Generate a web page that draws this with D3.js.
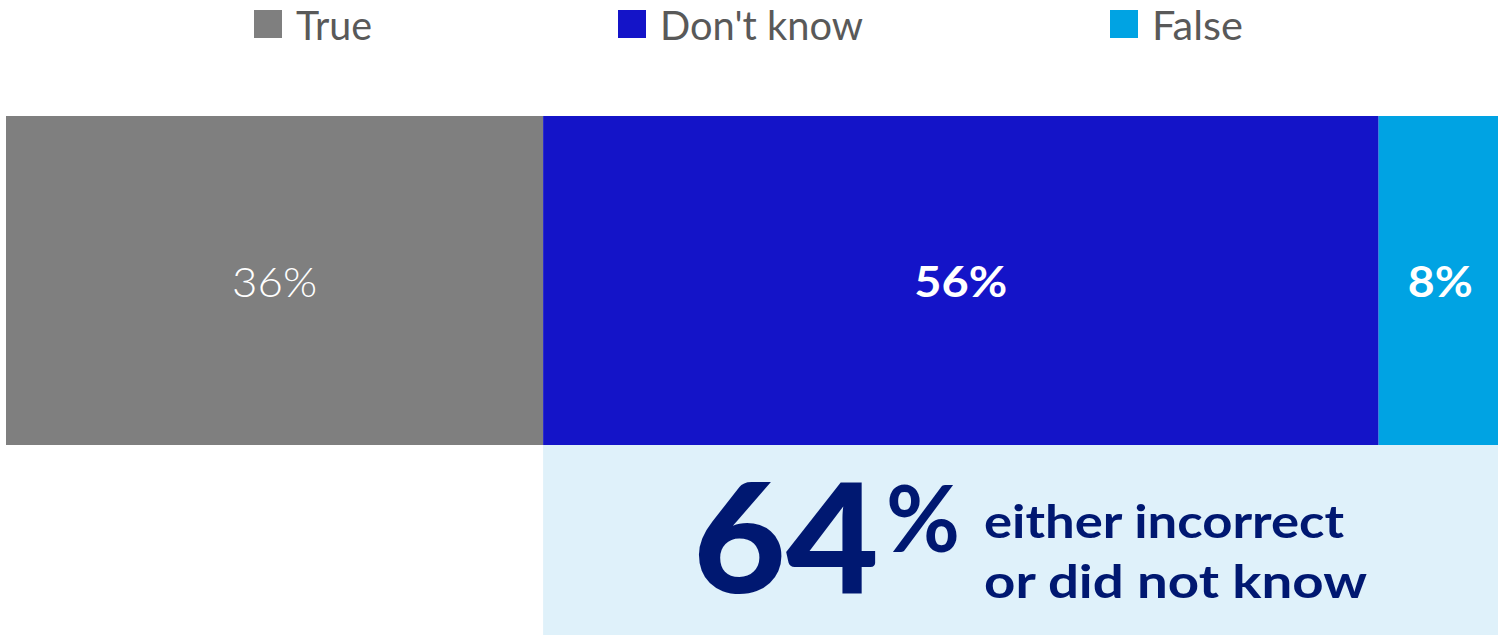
<!DOCTYPE html>
<html>
<head>
<meta charset="utf-8">
<script src="https://cdn.jsdelivr.net/npm/d3@7"></script>
<style>
  html, body { margin: 0; padding: 0; background: #fff; }
  svg { display: block; font-family: Lato, "Open Sans", sans-serif; }
</style>
</head>
<body>
<svg id="chart" width="1498" height="635"></svg>
<script>
// Survey answers, percent of respondents
const categories = ["True", "Don't know", "False"];
const values = [36, 56, 8];
const valueLabels = ["36%", "56%", "8%"];
const colors = ["#7f7f7f", "#1414c8", "#00a3e3"];
const labelWeights = [300, 700, 700];

// Callout: share that answered incorrectly or did not know
const calloutSeries = ["Don't know", "False"];
const calloutValue = 64;
const calloutLines = ["either incorrect", "or did not know"];

const W = 1498, H = 635;
const svg = d3.select("#chart");

const x = d3.scaleLinear().domain([0, 100]).range([6, 1498]);
const y = d3.scaleBand().domain(["all"]).range([116, 445]).padding(0);

// stacked offsets
let acc = 0;
const segs = categories.map((c, i) => {
  const s = { cat: c, v: values[i], x0: acc, x1: acc + values[i], label: valueLabels[i], color: colors[i], weight: labelWeights[i] };
  acc += values[i];
  return s;
});

// legend
const legendX = [254, 618, 1110];
const textW = [76, 203, 91];
const legend = svg.append("g");
categories.forEach((c, i) => {
  const g = legend.append("g").attr("transform", `translate(${legendX[i]},0)`);
  g.append("rect").attr("x", 0).attr("y", 10).attr("width", 28).attr("height", 28).attr("fill", colors[i]);
  g.append("text").attr("x", 42).attr("y", 40)
    .attr("font-size", 40).attr("font-weight", 400).attr("fill", "#595959")
    .attr("textLength", textW[i]).attr("lengthAdjust", "spacingAndGlyphs")
    .text(c);
});

// callout box under the incorrect / don't know segments
const cStart = d3.sum(values.slice(0, categories.indexOf(calloutSeries[0])));
svg.append("rect")
  .attr("x", x(cStart)).attr("y", y("all") + y.bandwidth())
  .attr("width", x(cStart + calloutValue) - x(cStart))
  .attr("height", H - (y("all") + y.bandwidth()))
  .attr("fill", "#dff1fa");

// bar segments
svg.append("g").selectAll("rect").data(segs).join("rect")
  .attr("x", d => x(d.x0)).attr("y", y("all"))
  .attr("width", d => x(d.x1) - x(d.x0)).attr("height", y.bandwidth())
  .attr("fill", d => d.color);

const segLabelW = [85, 93, 65];
svg.append("g").selectAll("text").data(segs).join("text")
  .attr("x", d => (x(d.x0) + x(d.x1)) / 2 + (d.cat === "False" ? 2 : 0))
  .attr("y", 297)
  .attr("text-anchor", "middle")
  .attr("font-size", 42)
  .attr("font-weight", d => d.weight)
  .attr("fill", "#fff")
  .attr("textLength", (d, i) => segLabelW[i]).attr("lengthAdjust", "spacingAndGlyphs")
  .text(d => d.label);

// big number
const navy = "#001871";
svg.append("text")
  .attr("x", 693).attr("y", 593)
  .attr("font-size", 153).attr("font-weight", 900).attr("fill", navy)
  .attr("textLength", 186).attr("lengthAdjust", "spacingAndGlyphs")
  .text(calloutValue);
svg.append("text")
  .attr("x", 886).attr("y", 552)
  .attr("font-size", 92).attr("font-weight", 700).attr("fill", navy)
  .attr("textLength", 74).attr("lengthAdjust", "spacingAndGlyphs")
  .text("%");

const lineW = [360, 383];
svg.append("g").selectAll("text").data(calloutLines).join("text")
  .attr("x", 984).attr("y", (d, i) => 538 + i * 60)
  .attr("font-size", 46).attr("font-weight", 700).attr("fill", navy)
  .attr("textLength", (d, i) => lineW[i]).attr("lengthAdjust", "spacingAndGlyphs")
  .text(d => d);
</script>
</body>
</html>
